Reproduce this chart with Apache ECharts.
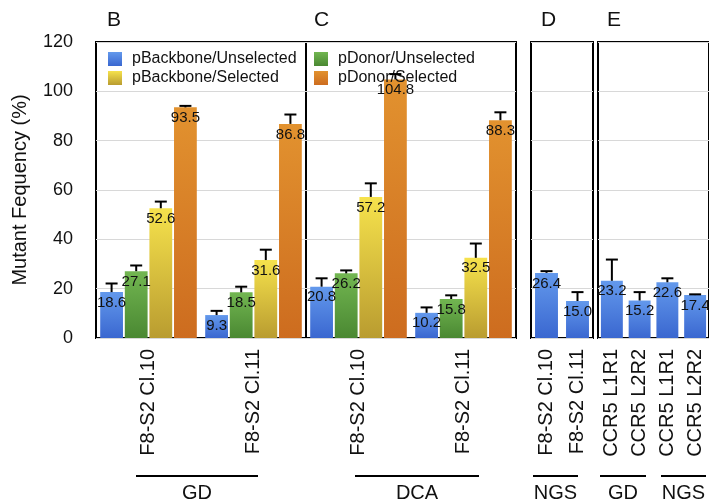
<!DOCTYPE html>
<html><head><meta charset="utf-8">
<script src="https://cdn.jsdelivr.net/npm/echarts@6/dist/echarts.min.js"></script>
<style>html,body{margin:0;padding:0;background:#fff}#c{width:709px;height:504px}</style>
</head><body><div id="c"></div>
<script>
// ---- data ----
const yTicks = [0, 20, 40, 60, 80, 100, 120];
const cloneCategories = ['F8-S2 Cl.10', 'F8-S2 Cl.11'];
const ccr5Categories = ['CCR5 L1R1', 'CCR5 L2R2', 'CCR5 L1R1', 'CCR5 L2R2'];
const seriesNames = ['pBackbone/Unselected', 'pDonor/Unselected', 'pBackbone/Selected', 'pDonor/Selected'];

// Panel B (GD)
const bBackboneUnsel = [18.6, 9.3];
const bDonorUnsel = [27.1, 18.5];
const bBackboneSel = [52.6, 31.6];
const bDonorSel = [93.5, 86.8];
const bBackboneUnselErr = [3.5, 1.7];
const bDonorUnselErr = [2.3, 2.3];
const bBackboneSelErr = [2.7, 4.2];
const bDonorSelErr = [0.6, 3.8];

// Panel C (DCA)
const cBackboneUnsel = [20.8, 10.2];
const cDonorUnsel = [26.2, 15.8];
const cBackboneSel = [57.2, 32.5];
const cDonorSel = [104.8, 88.3];
const cBackboneUnselErr = [3.4, 2.2];
const cDonorUnselErr = [1.2, 1.5];
const cBackboneSelErr = [5.5, 5.8];
const cDonorSelErr = [2.2, 3.2];

// Panel D (NGS)
const dValues = [26.4, 15.0];
const dErr = [0.7, 3.6];

// Panel E (GD, NGS)
const eValues = [23.2, 15.2, 22.6, 17.4];
const eErr = [8.6, 3.4, 1.6, 0.3];

const groupLabels = ['GD', 'DCA', 'NGS', 'GD', 'NGS'];
const panelLetters = ['B', 'C', 'D', 'E'];

// ---- styles ----
const FONT = '"Liberation Sans", Arial, Helvetica, sans-serif';
function grad(top, bottom) {
  return {type: 'linear', x: 0, y: 0, x2: 0, y2: 1, colorStops: [{offset: 0, color: top}, {offset: 1, color: bottom}]};
}
const colors = [
  grad('#6399ec', '#3a67d0'),
  grad('#72b651', '#4a8832'),
  grad('#f6e24c', '#b99c30'),
  grad('#e2922f', '#cd6c1f')
];

const grids = [
  {left: 96, right: 709 - 306, top: 42, bottom: 504 - 338},
  {left: 306, right: 709 - 516, top: 42, bottom: 504 - 338},
  {left: 531, right: 709 - 593, top: 42, bottom: 504 - 338},
  {left: 598, right: -1, top: 42, bottom: 504 - 338}
].map(g => Object.assign(g, {show: true, borderColor: '#000', borderWidth: 2, backgroundColor: 'transparent'}));

const gapCfg = [[0.08, 0.08], [0.08, 0.08], [0.26, 0.1], [0.21, 0.1]];

const xCats = [cloneCategories, cloneCategories, cloneCategories, ccr5Categories];
const xAxes = xCats.map((cats, gi) => ({
  type: 'category', gridIndex: gi, data: cats,
  axisTick: {show: false}, axisLine: {show: false},
  axisLabel: {rotate: 90, fontSize: 20, margin: 11, color: '#111', interval: 0, fontFamily: FONT}
}));
const yAxes = [0, 1, 2, 3].map(gi => ({
  type: 'value', gridIndex: gi, min: yTicks[0], max: yTicks[yTicks.length - 1], interval: yTicks[1] - yTicks[0],
  axisLine: {show: false}, axisTick: {show: false},
  axisLabel: {show: gi === 0, fontSize: 18, color: '#111', margin: 23, fontFamily: FONT},
  splitLine: {show: true, lineStyle: {color: '#d8d8d8', width: 1}},
  name: gi === 0 ? 'Mutant Fequency (%)' : '',
  nameLocation: 'middle', nameGap: 66, nameRotate: 90,
  nameTextStyle: {fontSize: 20, color: '#111', fontFamily: FONT}
}));

const labelCfg = {
  show: true, position: 'insideTop', distance: 3, fontSize: 15, color: '#111', fontFamily: FONT,
  formatter: p => Number(p.value).toFixed(1)
};

const series = [];
const errData = [[], [], [], []];
function addBars(gi, name, k, n, values, errs, colorIdx) {
  series.push({
    type: 'bar', name: name, xAxisIndex: gi, yAxisIndex: gi, data: values,
    barCategoryGap: (gapCfg[gi][0] * 100) + '%', barGap: (gapCfg[gi][1] * 100) + '%',
    itemStyle: {color: colors[colorIdx]}, label: labelCfg
  });
  values.forEach((v, i) => errData[gi].push([i, v, errs[i], k, n, gapCfg[gi][0], gapCfg[gi][1]]));
}
const bVals = [bBackboneUnsel, bDonorUnsel, bBackboneSel, bDonorSel];
const bErrs = [bBackboneUnselErr, bDonorUnselErr, bBackboneSelErr, bDonorSelErr];
const cVals = [cBackboneUnsel, cDonorUnsel, cBackboneSel, cDonorSel];
const cErrs = [cBackboneUnselErr, cDonorUnselErr, cBackboneSelErr, cDonorSelErr];
for (let k = 0; k < 4; k++) addBars(0, seriesNames[k], k, 4, bVals[k], bErrs[k], k);
for (let k = 0; k < 4; k++) addBars(1, seriesNames[k], k, 4, cVals[k], cErrs[k], k);
addBars(2, seriesNames[0], 0, 1, dValues, dErr, 0);
addBars(3, seriesNames[0], 0, 1, eValues, eErr, 0);

function renderErr(params, api) {
  const i = api.value(0), v = api.value(1), e = api.value(2), k = api.value(3), n = api.value(4);
  const cg = api.value(5), bg = api.value(6);
  const band = api.size([1, 0])[0];
  const w = band * (1 - cg) / (n + (n - 1) * bg);
  const off = -band * (1 - cg) / 2 + w / 2 + k * w * (1 + bg);
  const p0 = api.coord([i, v]);
  const p1 = api.coord([i, v + e]);
  const x = p0[0] + off;
  return {type: 'group', children: [
    {type: 'line', shape: {x1: x, y1: p0[1], x2: x, y2: p1[1]}, style: {stroke: '#000', lineWidth: 2}},
    {type: 'line', shape: {x1: x - 6, y1: p1[1], x2: x + 6, y2: p1[1]}, style: {stroke: '#000', lineWidth: 2}}
  ]};
}
for (let gi = 0; gi < 4; gi++) {
  series.push({
    type: 'custom', xAxisIndex: gi, yAxisIndex: gi, renderItem: renderErr, data: errData[gi],
    encode: {x: 0, y: 1}, z: 5, silent: true, tooltip: {show: false}
  });
}

// annotations (group underlines and labels, panel letters)
const underlineSpans = [[136, 258], [355, 479], [533, 578], [600, 646], [661, 706]];
const graphics = [];
underlineSpans.forEach((s, j) => {
  graphics.push({type: 'line', shape: {x1: s[0], y1: 476, x2: s[1], y2: 476}, style: {stroke: '#000', lineWidth: 2}});
  graphics.push({type: 'text', x: (s[0] + s[1]) / 2, y: 493,
    style: {text: groupLabels[j], fontSize: 20, fontFamily: FONT, fill: '#111', align: 'center', verticalAlign: 'middle'}});
});
const letterX = [107, 314, 541, 607];
panelLetters.forEach((t, j) => {
  graphics.push({type: 'text', x: letterX[j], y: 20,
    style: {text: t, fontSize: 21, fontFamily: FONT, fill: '#111', align: 'left', verticalAlign: 'middle'}});
});

const legendBase = {
  orient: 'vertical', itemWidth: 14, itemHeight: 14, itemGap: 3, top: 46, icon: 'rect',
  textStyle: {fontSize: 16, color: '#111', fontFamily: FONT, padding: [0, 0, 0, 5]}
};

const chart = echarts.init(document.getElementById('c'), null, {renderer: 'canvas'});
chart.setOption({
  animation: false,
  backgroundColor: '#fff',
  textStyle: {fontFamily: FONT},
  grid: grids,
  xAxis: xAxes,
  yAxis: yAxes,
  legend: [
    Object.assign({}, legendBase, {left: 103, data: [seriesNames[0], seriesNames[2]]}),
    Object.assign({}, legendBase, {left: 309, data: [seriesNames[1], seriesNames[3]]})
  ],
  graphic: graphics,
  series: series
});
</script></body></html>
